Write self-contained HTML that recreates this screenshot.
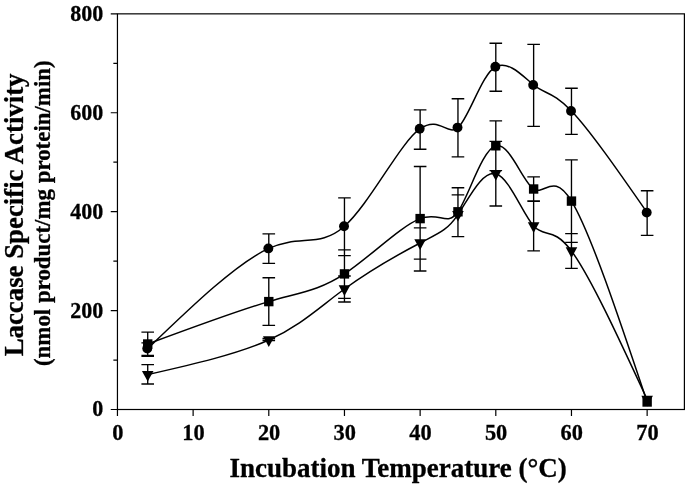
<!DOCTYPE html>
<html><head><meta charset="utf-8"><title>Laccase Specific Activity</title>
<style>html,body{margin:0;padding:0;background:#fff}svg{display:block;will-change:transform}text{font-family:"Liberation Serif",serif;font-weight:bold;fill:#000;stroke:#000;stroke-width:.3px}</style></head>
<body>
<svg width="685" height="485" viewBox="0 0 685 485">
<rect width="685" height="485" fill="#fff"/>
<g fill="none" stroke="#000" stroke-width="1.2">
<rect x="117.45" y="13.85" width="566.95" height="395.65"/>
<path d="M110.75 409.5H117.45M113.35 360.04H117.45M110.75 310.58H117.45M113.35 261.12H117.45M110.75 211.66H117.45M113.35 162.2H117.45M110.75 112.74H117.45M113.35 63.28H117.45M110.75 13.82H117.45M117.45 409.5V415.9M193.12 409.5V415.9M268.79 409.5V415.9M344.46 409.5V415.9M420.13 409.5V415.9M495.8 409.5V415.9M571.47 409.5V415.9M647.14 409.5V415.9"/>
</g>
<g font-size="23.6" text-anchor="end">
<text transform="translate(103.3 416) scale(0.935 1)">0</text>
<text transform="translate(103.3 318) scale(0.935 1)">200</text>
<text transform="translate(103.3 219) scale(0.935 1)">400</text>
<text transform="translate(103.3 120) scale(0.935 1)">600</text>
<text transform="translate(103.3 21) scale(0.935 1)">800</text>
</g>
<g font-size="23.6" text-anchor="middle">
<text transform="translate(117.75 440) scale(0.95 1)">0</text>
<text transform="translate(193.42 440) scale(0.95 1)">10</text>
<text transform="translate(269.09 440) scale(0.95 1)">20</text>
<text transform="translate(344.76 440) scale(0.95 1)">30</text>
<text transform="translate(420.43 440) scale(0.95 1)">40</text>
<text transform="translate(496.1 440) scale(0.95 1)">50</text>
<text transform="translate(571.77 440) scale(0.95 1)">60</text>
<text transform="translate(647.44 440) scale(0.95 1)">70</text>
</g>
<text x="398.1" y="476.5" font-size="27" text-anchor="middle">Incubation Temperature (°C)</text>
<text transform="translate(23.2 214.9) rotate(-90)" font-size="26.8" text-anchor="middle">Laccase Specific Activity</text>
<text transform="translate(50 213.2) rotate(-90)" font-size="22.9" text-anchor="middle">(nmol product/mg protein/min)</text>
<path d="M147.72 342.9V355.3M141.42 342.9H154.02M141.42 355.3H154.02M268.79 233.8V263.3M262.49 233.8H275.09M262.49 263.3H275.09M344.46 197.9V255.6M338.16 197.9H350.76M338.16 255.6H350.76M420.13 109.9V149.2M413.83 109.9H426.43M413.83 149.2H426.43M457.96 98.7V156.9M451.66 98.7H464.26M451.66 156.9H464.26M495.8 43.2V91.2M489.5 43.2H502.1M489.5 91.2H502.1M533.63 44.3V126.4M527.34 44.3H539.93M527.34 126.4H539.93M571.47 88.2V134.3M565.17 88.2H577.77M565.17 134.3H577.77M647.14 190.7V235.3M640.84 190.7H653.44M640.84 235.3H653.44M147.72 332.1V356.2M141.42 332.1H154.02M141.42 356.2H154.02M268.79 277.7V325.3M262.49 277.7H275.09M262.49 325.3H275.09M344.46 249.8V298.4M338.16 249.8H350.76M338.16 298.4H350.76M420.13 166.5V271M413.83 166.5H426.43M413.83 271H426.43M457.96 187.7V236.6M451.66 187.7H464.26M451.66 236.6H464.26M495.8 120.8V170.6M489.5 120.8H502.1M489.5 170.6H502.1M533.63 176.9V200.8M527.34 176.9H539.93M527.34 200.8H539.93M571.47 159.9V242.3M565.17 159.9H577.77M565.17 242.3H577.77M147.72 364.6V384M141.42 364.6H154.02M141.42 384H154.02M268.79 338.5V340.5M262.49 338.5H275.09M262.49 340.5H275.09M344.46 276V302M338.16 276H350.76M338.16 302H350.76M420.13 227.8V259.1M413.83 227.8H426.43M413.83 259.1H426.43M457.96 194.8V236.6M451.66 194.8H464.26M451.66 236.6H464.26M495.8 141.3V206M489.5 141.3H502.1M489.5 206H502.1M533.63 201.4V250.9M527.34 201.4H539.93M527.34 250.9H539.93M571.47 233.6V268.3M565.17 233.6H577.77M565.17 268.3H577.77" fill="none" stroke="#000" stroke-width="1.35"/>
<g fill="none" stroke="#000" stroke-width="1.5" stroke-linejoin="round">
<path d="M147.72 348.6C192.37 305.67 237.03 262.74 268.79 248.4C300.55 234.06 319.43 248.29 344.46 226.2C369.49 204.11 400.68 141.87 420.13 128.7C439.58 115.53 447.29 136.52 457.96 127.6C468.64 118.68 482.28 72.87 495.8 66.7C509.32 60.53 522.72 76.09 533.63 85C544.55 93.91 552.97 91.6 571.47 111C589.97 130.4 618.56 171.5 647.14 212.6"/>
<path d="M147.72 344C192.37 327.42 237.03 310.84 268.79 301.6C300.55 292.36 319.43 290.46 344.46 273.9C369.49 257.34 400.68 226.14 420.13 218.6C439.58 211.06 447.29 227.2 457.96 211.8C468.64 196.4 482.28 149.45 495.8 145.8C509.32 142.15 522.72 181.79 533.63 189C544.55 196.21 552.97 171 571.47 201.1C589.97 231.2 618.56 316.6 647.14 402"/>
<path d="M147.72 374.6C192.37 364.47 237.03 354.33 268.79 340C300.55 325.67 319.43 307.13 344.46 289C369.49 270.87 400.68 253.14 420.13 243C439.58 232.86 447.29 230.3 457.96 214.6C468.64 198.9 482.28 170.06 495.8 173.8C509.32 177.54 522.72 213.86 533.63 226C544.55 238.14 552.97 226.11 571.47 251C589.97 275.89 618.56 337.69 647.14 399.5"/>
</g>
<g fill="#000">
<circle cx="147.27" cy="348.6" r="4.95"/>
<circle cx="268.34" cy="248.4" r="4.95"/>
<circle cx="344.01" cy="226.2" r="4.95"/>
<circle cx="419.68" cy="128.7" r="4.95"/>
<circle cx="457.51" cy="127.6" r="4.95"/>
<circle cx="495.35" cy="66.7" r="4.95"/>
<circle cx="533.18" cy="85" r="4.95"/>
<circle cx="571.02" cy="111" r="4.95"/>
<circle cx="646.69" cy="212.6" r="4.95"/>
<path d="M141.92 370.9H153.52L147.72 381.5Z"/>
<path d="M262.99 336.3H274.59L268.79 346.9Z"/>
<path d="M338.66 285.3H350.26L344.46 295.9Z"/>
<path d="M414.33 239.3H425.93L420.13 249.9Z"/>
<path d="M452.16 210.9H463.76L457.96 221.5Z"/>
<path d="M490 170.1H501.6L495.8 180.7Z"/>
<path d="M527.84 222.3H539.43L533.63 232.9Z"/>
<path d="M565.67 247.3H577.27L571.47 257.9Z"/>
<path d="M641.34 395.8H652.94L647.14 406.4Z"/>
<rect x="143.02" y="339.3" width="9.4" height="9.4"/>
<rect x="264.09" y="296.9" width="9.4" height="9.4"/>
<rect x="339.76" y="269.2" width="9.4" height="9.4"/>
<rect x="415.43" y="213.9" width="9.4" height="9.4"/>
<rect x="453.26" y="207.1" width="9.4" height="9.4"/>
<rect x="491.1" y="141.1" width="9.4" height="9.4"/>
<rect x="528.93" y="184.3" width="9.4" height="9.4"/>
<rect x="566.77" y="196.4" width="9.4" height="9.4"/>
<rect x="642.44" y="397.3" width="9.4" height="9.4"/>
</g>
</svg></body></html>
